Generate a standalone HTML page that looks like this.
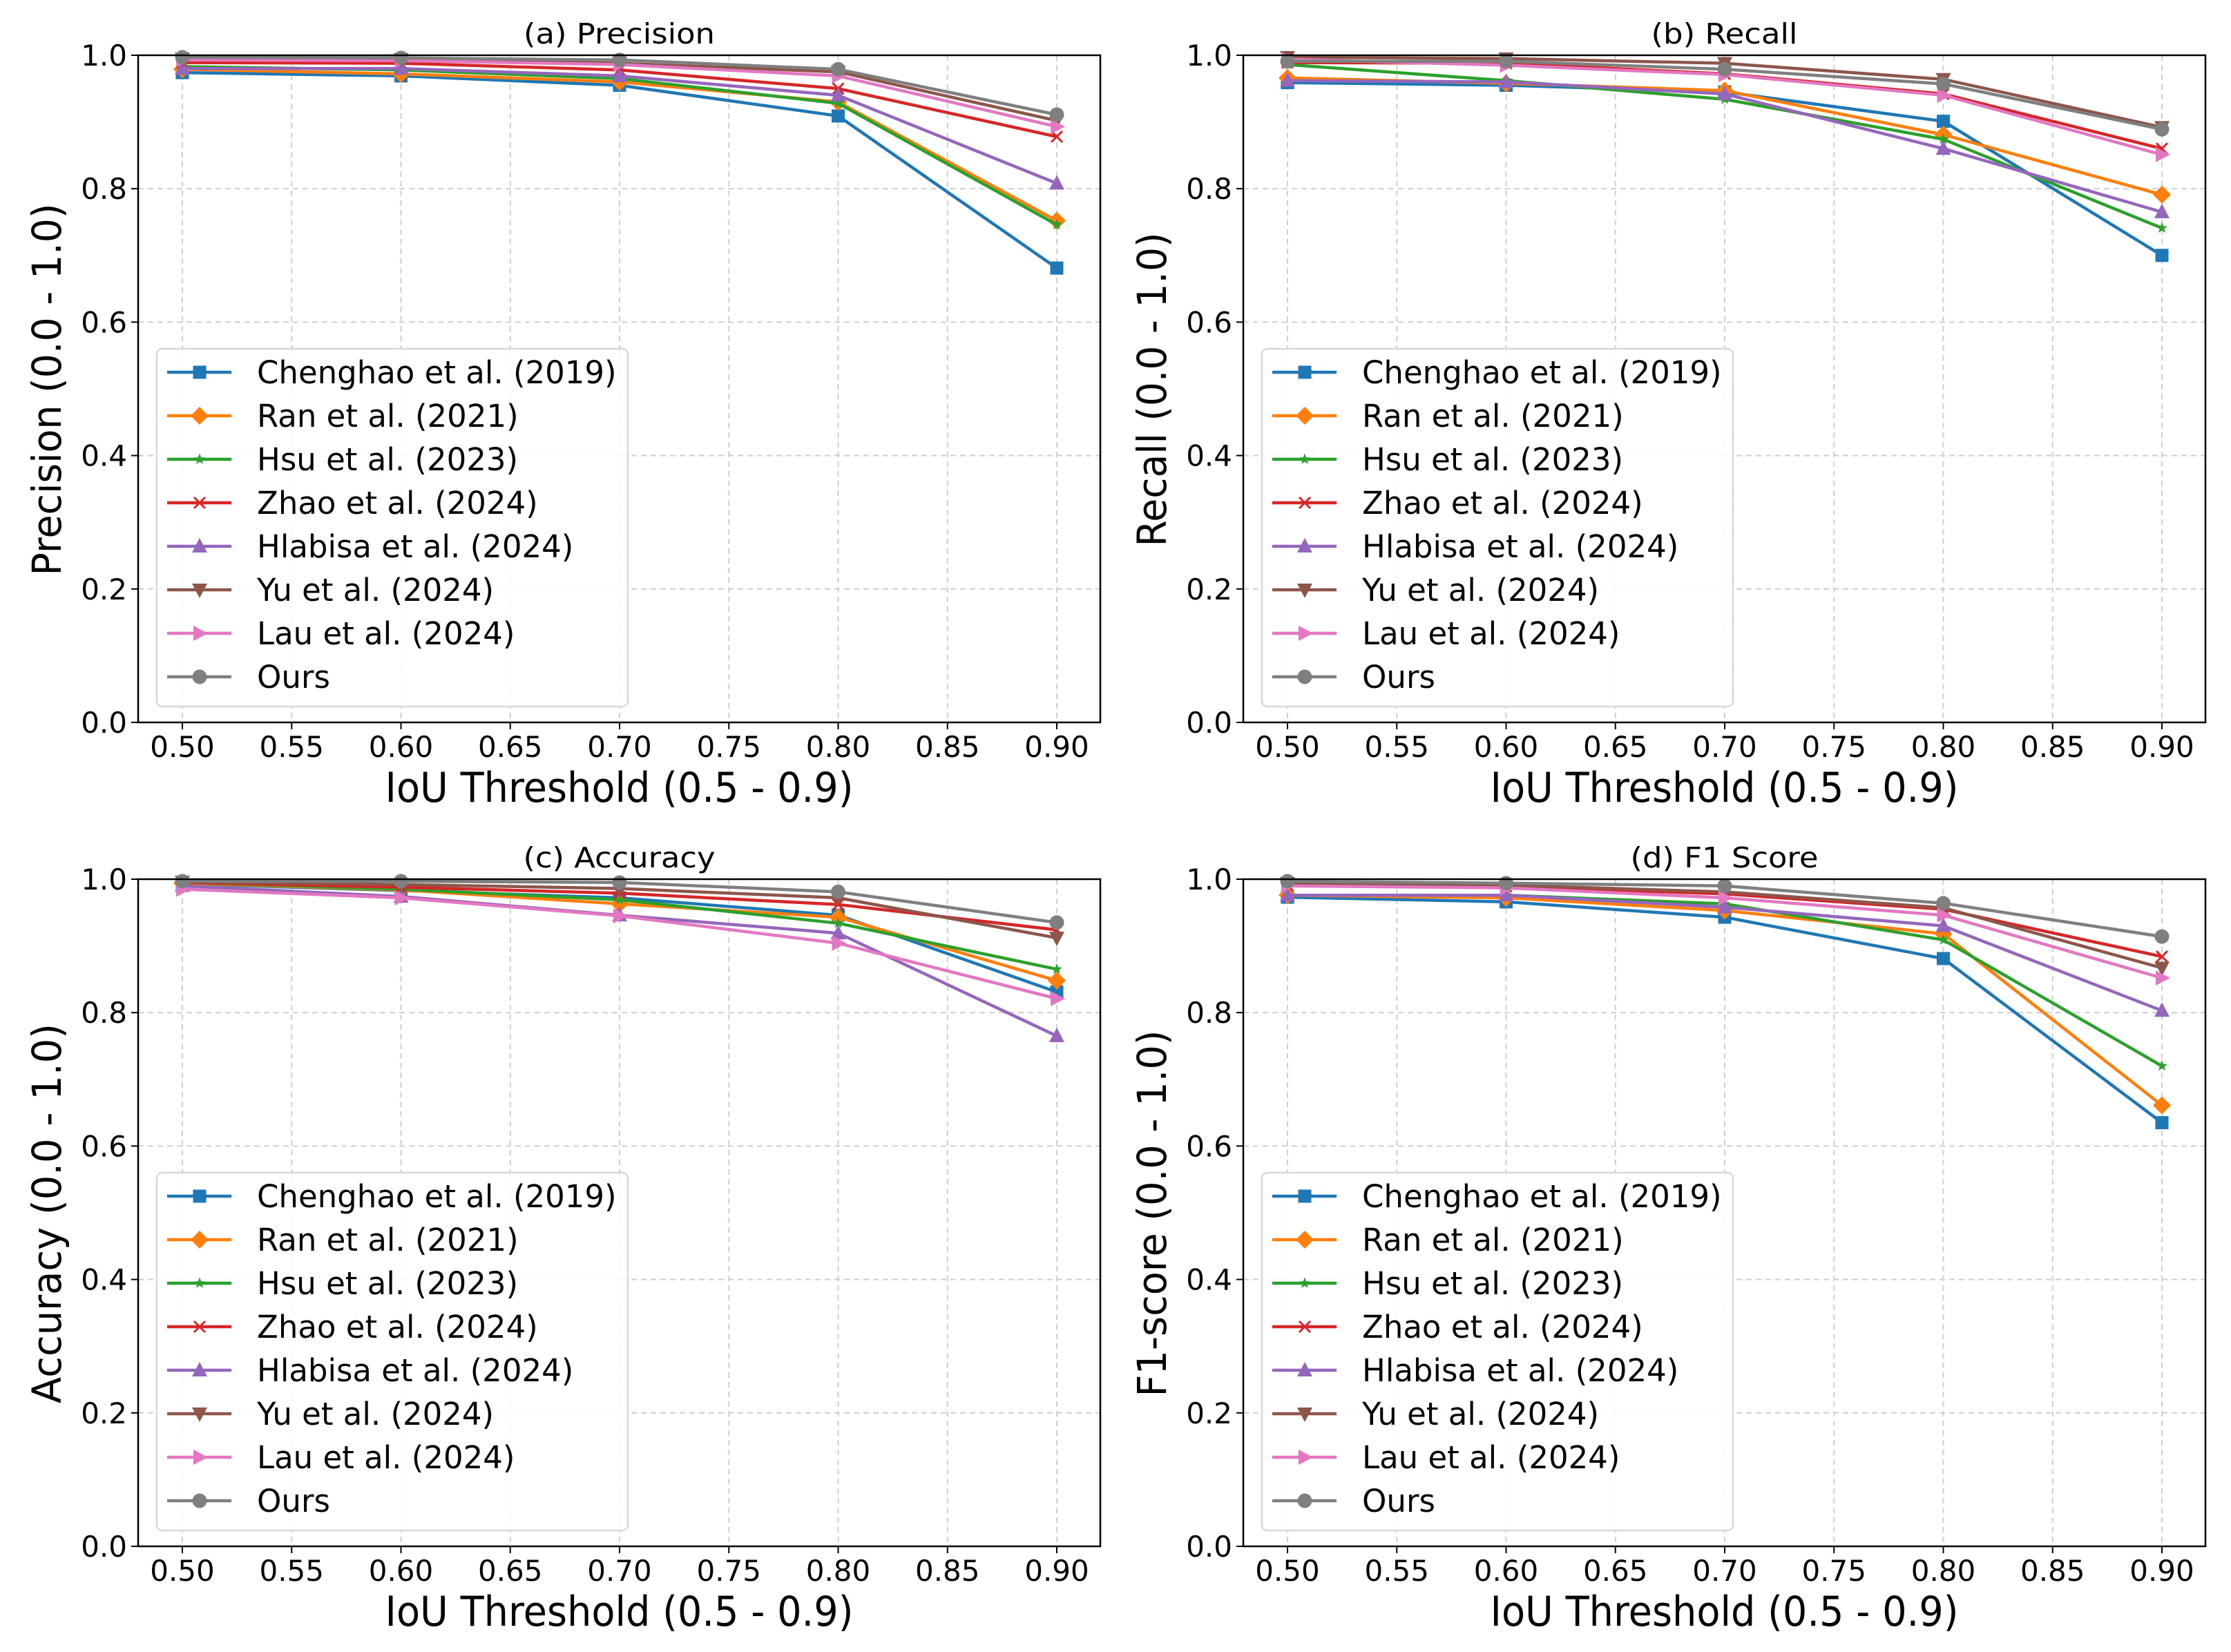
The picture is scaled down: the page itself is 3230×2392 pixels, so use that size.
<!DOCTYPE html>
<html><head><meta charset="utf-8">
<style>
html,body{margin:0;padding:0;background:#fff;}
svg{display:block;font-family:"DejaVu Sans","Liberation Sans",sans-serif;}
</style></head>
<body>
<svg id="fig" xmlns="http://www.w3.org/2000/svg" width="3230" height="2392" viewBox="0 0 3230 2392"></svg>
<script>
// ---- data ----
const thresholds = [0.5, 0.6, 0.7, 0.8, 0.9];
const xTicks = [0.50, 0.55, 0.60, 0.65, 0.70, 0.75, 0.80, 0.85, 0.90];
const yTicks = [0.0, 0.2, 0.4, 0.6, 0.8, 1.0];
const seriesNames = ["Chenghao et al. (2019)", "Ran et al. (2021)", "Hsu et al. (2023)", "Zhao et al. (2024)", "Hlabisa et al. (2024)", "Yu et al. (2024)", "Lau et al. (2024)", "Ours"];

// (a) Precision
const precChenghao = [0.974, 0.969, 0.955, 0.909, 0.681];
const precRan      = [0.979, 0.972, 0.960, 0.930, 0.752];
const precHsu      = [0.983, 0.978, 0.965, 0.928, 0.746];
const precZhao     = [0.989, 0.988, 0.978, 0.950, 0.878];
const precHlabisa  = [0.980, 0.980, 0.969, 0.940, 0.808];
const precYu       = [0.995, 0.994, 0.988, 0.975, 0.902];
const precLau      = [0.993, 0.992, 0.986, 0.969, 0.893];
const precOurs     = [0.997, 0.996, 0.993, 0.979, 0.911];
// (b) Recall
const recChenghao = [0.959, 0.955, 0.945, 0.901, 0.700];
const recRan      = [0.966, 0.958, 0.947, 0.881, 0.791];
const recHsu      = [0.986, 0.962, 0.934, 0.874, 0.741];
const recZhao     = [0.989, 0.988, 0.972, 0.942, 0.860];
const recHlabisa  = [0.962, 0.960, 0.942, 0.860, 0.765];
const recYu       = [0.997, 0.995, 0.988, 0.964, 0.892];
const recLau      = [0.994, 0.985, 0.971, 0.940, 0.851];
const recOurs     = [0.991, 0.991, 0.979, 0.957, 0.889];
// (c) Accuracy
const accChenghao = [0.993, 0.983, 0.972, 0.946, 0.831];
const accRan      = [0.994, 0.984, 0.963, 0.943, 0.848];
const accHsu      = [0.995, 0.985, 0.969, 0.934, 0.865];
const accZhao     = [0.995, 0.988, 0.979, 0.962, 0.924];
const accHlabisa  = [0.990, 0.974, 0.946, 0.919, 0.765];
const accYu       = [0.996, 0.992, 0.986, 0.972, 0.912];
const accLau      = [0.985, 0.972, 0.945, 0.904, 0.821];
const accOurs     = [0.997, 0.997, 0.995, 0.981, 0.935];
// (d) F1
const f1Chenghao = [0.973, 0.966, 0.943, 0.881, 0.635];
const f1Ran      = [0.976, 0.972, 0.953, 0.918, 0.661];
const f1Hsu      = [0.976, 0.976, 0.963, 0.909, 0.720];
const f1Zhao     = [0.991, 0.989, 0.978, 0.955, 0.884];
const f1Hlabisa  = [0.976, 0.976, 0.958, 0.930, 0.803];
const f1Yu       = [0.994, 0.991, 0.981, 0.957, 0.867];
const f1Lau      = [0.990, 0.987, 0.972, 0.946, 0.852];
const f1Ours     = [0.997, 0.994, 0.990, 0.964, 0.914];

const colors = ["#1f77b4","#ff7f0e","#2ca02c","#d62728","#9467bd","#8c564b","#e377c2","#7f7f7f"];
const markers = ["s","D","*","x","^","v",">","o"];
const NS = "http://www.w3.org/2000/svg";
const fig = document.getElementById("fig");

function mk(tag, attrs, parent){
  const e = document.createElementNS(NS, tag);
  for (const k in attrs) e.setAttribute(k, attrs[k]);
  parent.appendChild(e);
  return e;
}

function drawMarker(g, type, cx, cy, color){
  let m;
  if (type === "s") m = mk("rect",{x:cx-9.5,y:cy-9.5,width:19,height:19,fill:color},g);
  else if (type === "o") m = mk("circle",{cx:cx,cy:cy,r:10.5,fill:color},g);
  else if (type === "D") m = mk("polygon",{points:`${cx},${cy-13} ${cx+13},${cy} ${cx},${cy+13} ${cx-13},${cy}`,fill:color},g);
  else if (type === "^") m = mk("polygon",{points:`${cx},${cy-12} ${cx+11},${cy+9} ${cx-11},${cy+9}`,fill:color},g);
  else if (type === "v") m = mk("polygon",{points:`${cx},${cy+12} ${cx+11},${cy-9} ${cx-11},${cy-9}`,fill:color},g);
  else if (type === ">") m = mk("polygon",{points:`${cx+12},${cy} ${cx-9},${cy-11} ${cx-9},${cy+11}`,fill:color},g);
  else if (type === "x") m = mk("path",{d:`M${cx-8},${cy-8}L${cx+8},${cy+8}M${cx-8},${cy+8}L${cx+8},${cy-8}`,stroke:color,"stroke-width":3,fill:"none"},g);
  else if (type === "*"){
    let pts=[];
    for(let i=0;i<10;i++){const a=-Math.PI/2+i*Math.PI/5;const rr=i%2?3.5:8.5;pts.push((cx+rr*Math.cos(a)).toFixed(1)+","+(cy+rr*Math.sin(a)).toFixed(1));}
    m = mk("polygon",{points:pts.join(" "),fill:color},g);
  }
  
  
  return m;
}

function panel(ox, oy, title, titleLen, ylabel, ylabelLen, data, key){
  const L = ox+200, R = ox+1593, T = oy+80, B = oy+1046;
  const xs = v => ox + 264 + (v-0.5)/0.4*1266;
  const ys = v => B - v*(B-T);
  const g = mk("g",{},fig);
  
  
  xTicks.forEach(t=>{
    const l = mk("line",{x1:xs(t),x2:xs(t),y1:T,y2:B,stroke:"#cfcfcf","stroke-width":2,"stroke-dasharray":"8,6"},g);
     
  });
  yTicks.forEach(t=>{
    const l = mk("line",{x1:L,x2:R,y1:ys(t),y2:ys(t),stroke:"#cfcfcf","stroke-width":2,"stroke-dasharray":"8,6"},g);
     
  });
  data.forEach((vals,i)=>{
    const sg = mk("g",{},g);
    
    
    const pts = vals.map((v,j)=>xs(thresholds[j]).toFixed(1)+","+ys(v).toFixed(1)).join(" ");
    const pl = mk("polyline",{points:pts,fill:"none",stroke:colors[i],"stroke-width":4.5,"stroke-linejoin":"round"},sg);
     
    vals.forEach((v,j)=>drawMarker(sg, markers[i], xs(thresholds[j]), ys(v), colors[i]));
  });
  const sp = mk("rect",{x:L,y:T,width:R-L,height:B-T,fill:"none",stroke:"#000","stroke-width":2.5},g);
   
  xTicks.forEach(t=>{
    mk("line",{x1:xs(t),x2:xs(t),y1:B,y2:B+10,stroke:"#000","stroke-width":2},g);
    const tx = mk("text",{x:xs(t),y:oy+1096,"font-size":42,"text-anchor":"middle",fill:"#000"},g);
    tx.textContent = t.toFixed(2);
     
  });
  yTicks.forEach(t=>{
    mk("line",{x1:L-10,x2:L,y1:ys(t),y2:ys(t),stroke:"#000","stroke-width":2},g);
    const tx = mk("text",{x:ox+184,y:ys(t)+15,"font-size":42,"text-anchor":"end",fill:"#000"},g);
    tx.textContent = t.toFixed(1);
     
  });
  const tt = mk("text",{x:(L+R)/2,y:oy+63,"font-size":41,"text-anchor":"middle",textLength:titleLen,lengthAdjust:"spacingAndGlyphs"},g);
  tt.textContent = title;
   
  const xl = mk("text",{x:(L+R)/2,y:oy+1161,"font-size":60,"text-anchor":"middle",textLength:678,lengthAdjust:"spacingAndGlyphs"},g);
  xl.textContent = "IoU Threshold (0.5 - 0.9)";
   
  const cy = oy+564;
  const yl = mk("text",{x:ox+67,y:cy,"font-size":58,"text-anchor":"middle",transform:`rotate(-90 ${ox+67} ${cy}) translate(0 21)`,textLength:ylabelLen,lengthAdjust:"spacingAndGlyphs"},g);
  yl.textContent = ylabel;
   
  const lg = mk("g",{},g);
   
  mk("rect",{x:ox+227,y:oy+505,width:682,height:518,rx:8,fill:"#fff","fill-opacity":0.85,stroke:"#d8d8d8","stroke-width":2.5},lg);
  seriesNames.forEach((n,i)=>{
    const ry = oy+539+i*63;
    const e = mk("g",{},lg);
     
    mk("line",{x1:ox+242,x2:ox+335,y1:ry,y2:ry,stroke:colors[i],"stroke-width":4.5},e);
    drawMarker(e, markers[i], ox+289, ry, colors[i]);
    const t = mk("text",{x:ox+372,y:ry+16,"font-size":45,fill:"#000"},e);
    t.textContent = n;
  });
}

panel(0,0,"(a) Precision",277,"Precision (0.0 - 1.0)",539,
  [precChenghao,precRan,precHsu,precZhao,precHlabisa,precYu,precLau,precOurs],"precision");
panel(1600,0,"(b) Recall",212,"Recall (0.0 - 1.0)",455,
  [recChenghao,recRan,recHsu,recZhao,recHlabisa,recYu,recLau,recOurs],"recall");
panel(0,1193,"(c) Accuracy",278,"Accuracy (0.0 - 1.0)",550,
  [accChenghao,accRan,accHsu,accZhao,accHlabisa,accYu,accLau,accOurs],"accuracy");
panel(1600,1193,"(d) F1 Score",272,"F1-score (0.0 - 1.0)",531,
  [f1Chenghao,f1Ran,f1Hsu,f1Zhao,f1Hlabisa,f1Yu,f1Lau,f1Ours],"f1");
</script>
</body></html>
